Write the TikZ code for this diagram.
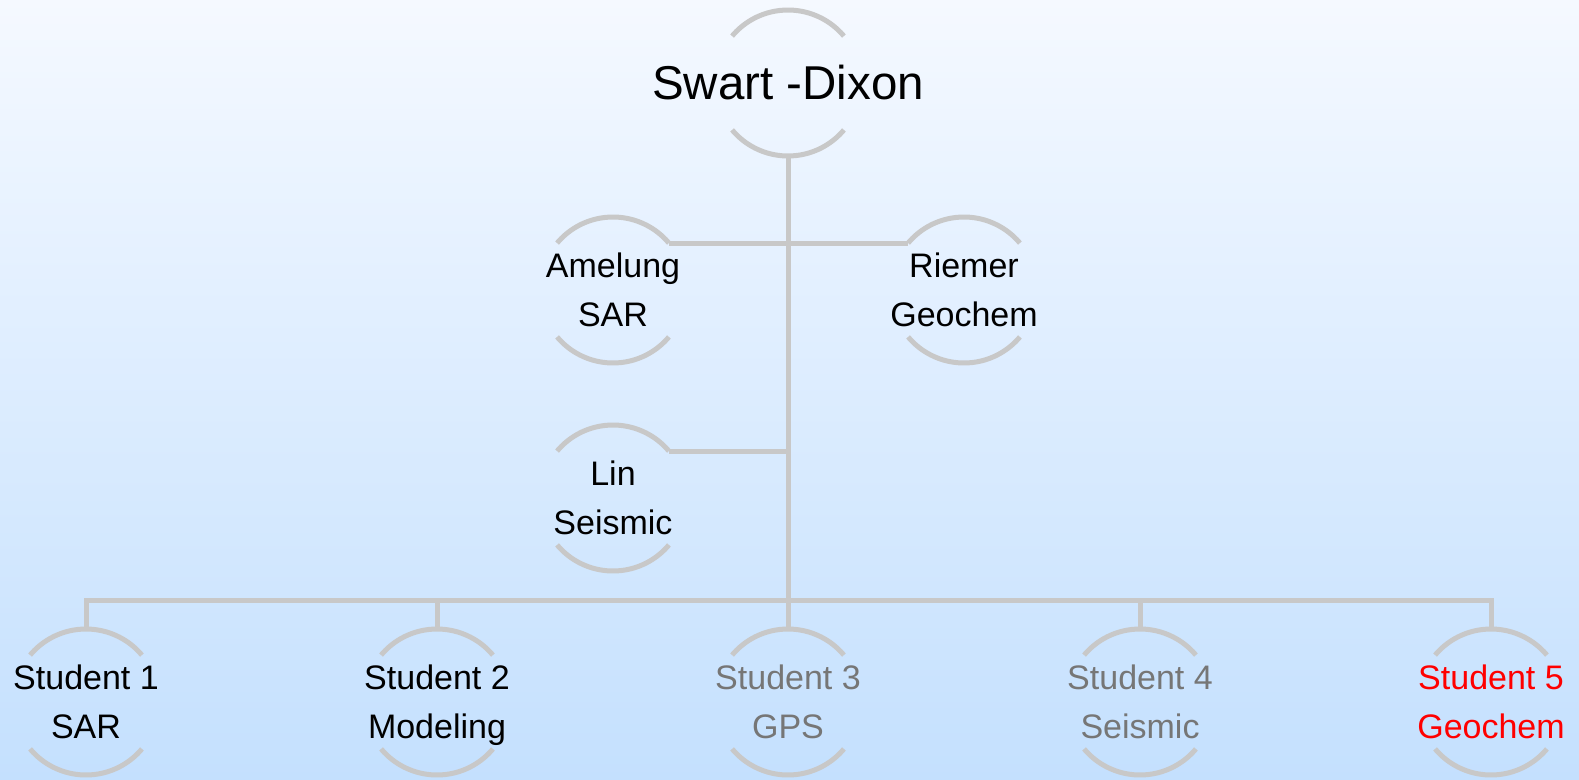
\documentclass[tikz,border=0pt]{standalone}
\usepackage{fontspec}
\setmainfont{Liberation Sans}
\definecolor{linegray}{RGB}{200,200,200}
\definecolor{skytop}{RGB}{245,249,255}
\definecolor{skybottom}{RGB}{196,224,254}
\definecolor{dimtext}{RGB}{118,118,118}
\tikzset{
	member/.style={circle, minimum size=146pt, inner sep=0pt, outer sep=0pt},
	who/.style={align=center, inner sep=0pt, yshift=-7.4pt, font=\fontsize{34}{49}\selectfont,
		execute at begin node=\strut, execute at end node=\strut},
	link/.style={draw=linegray, line width=5pt},
}

\begin{document}
\begin{tikzpicture}[x=1pt, y=-1pt]
	\shade[top color=skytop, bottom color=skybottom] (0,0) rectangle (1579,779);
	\useasboundingbox (0,0) rectangle (1579,779);
	\node[member, label={[inner sep=0pt, font=\fontsize{47.5}{57}\selectfont]center:Swart -Dixon}] (boss) at (788,83) {};
	\node[member, label={[who]center:Amelung\\SAR}] (amelung) at (613,290) {};
	\node[member, label={[who]center:Riemer\\Geochem}] (riemer) at (964,290) {};
	\node[member, label={[who]center:Lin\\Seismic}] (lin) at (613,498) {};
	\node[member, label={[who]center:Student 1\\SAR}] (s1) at (86,702) {};
	\node[member, label={[who]center:Student 2\\Modeling}] (s2) at (437,702) {};
	\node[member, label={[who, text=dimtext]center:Student 3\\GPS}] (s3) at (788,702) {};
	\node[member, label={[who, text=dimtext]center:Student 4\\Seismic}] (s4) at (1140,702) {};
	\node[member, label={[who, text=red]center:Student 5\\Geochem}] (s5) at (1491,702) {};
	\foreach \n in {boss,amelung,riemer,lin,s1,s2,s3,s4,s5}
		\draw[link] (\n.40) arc[start angle=40, end angle=140, radius=73pt]
			(\n.220) arc[start angle=220, end angle=320, radius=73pt];
	\coordinate (bus) at (788,600);
	\draw[link] (boss.south) -- (s3.north);
	\draw[link] (amelung.40) -- (riemer.140);
	\draw[link] (lin.40) -- (lin.40 -| boss.south);
	\draw[link] (s1.north) |- (bus) -| (s5.north);
	\draw[link] (s2.north) -- (s2.north |- bus);
	\draw[link] (s4.north) -- (s4.north |- bus);
\end{tikzpicture}
\end{document}
